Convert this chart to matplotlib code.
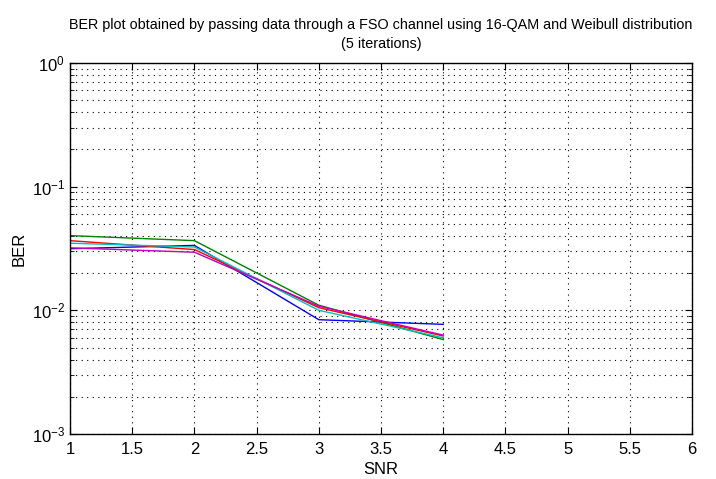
import matplotlib
matplotlib.use("Agg")
import matplotlib.pyplot as plt
from matplotlib.ticker import LogLocator, NullFormatter

snr = [1, 2, 3, 4]
ber_iter1 = [0.0315, 0.0335, 0.0084, 0.0077]   # blue
ber_iter2 = [0.0402, 0.0366, 0.0110, 0.0058]   # green
ber_iter3 = [0.0366, 0.0310, 0.0105, 0.0062]   # red
ber_iter4 = [0.0349, 0.0325, 0.0100, 0.0060]   # cyan
ber_iter5 = [0.0320, 0.0295, 0.0108, 0.0063]   # magenta
series = [ber_iter1, ber_iter2, ber_iter3, ber_iter4, ber_iter5]
colors = ['#0000ff', '#008000', '#ff0000', '#00bfbf', '#bf00bf']
xticks = [1, 1.5, 2, 2.5, 3, 3.5, 4, 4.5, 5, 5.5, 6]
xticklabels = ['1', '1.5', '2', '2.5', '3', '3.5', '4', '4.5', '5', '5.5', '6']

fam = 'Liberation Sans'
plt.rcParams['font.family'] = [fam, 'DejaVu Sans']
plt.rcParams['mathtext.fontset'] = 'custom'
plt.rcParams['mathtext.rm'] = fam
plt.rcParams['mathtext.it'] = fam
plt.rcParams['mathtext.bf'] = fam

fig = plt.figure(figsize=(7.16, 4.79), dpi=100)
ax = fig.add_axes([70/716, 1-434/479, 622/716, 371/479])

for y, c in zip(series, colors):
    ax.semilogy(snr, y, color=c, linewidth=1.0)

ax.set_xlim(1, 6)
ax.set_ylim(1e-3, 1)
ax.set_xticks(xticks)
ax.set_xticklabels(xticklabels)
ax.yaxis.set_major_locator(LogLocator(base=10, numticks=10))
ax.yaxis.set_minor_locator(LogLocator(base=10, subs=range(2, 10), numticks=10))
ax.yaxis.set_minor_formatter(NullFormatter())

ax.grid(True, which='major', linestyle=(0, (1, 4)), color='black', linewidth=0.8)
ax.grid(True, which='minor', axis='y', linestyle=(0, (1, 4)), color='black', linewidth=0.8)
ax.tick_params(which='both', direction='in', top=True, right=True, labelsize=12)
ax.tick_params(axis='x', pad=6)
ax.tick_params(which='major', length=5)
ax.tick_params(which='minor', length=3)
for s in ax.spines.values():
    s.set_linewidth(1.0)

ax.set_xlabel('SNR', fontsize=12, labelpad=3)
ax.set_ylabel('BER', fontsize=12, labelpad=4)
ax.set_title('BER plot obtained by passing data through a FSO channel using 16-QAM and Weibull distribution\n(5 iterations)',
             fontsize=10.4, pad=11, linespacing=1.45)

fig.savefig('out.png', dpi=100)
